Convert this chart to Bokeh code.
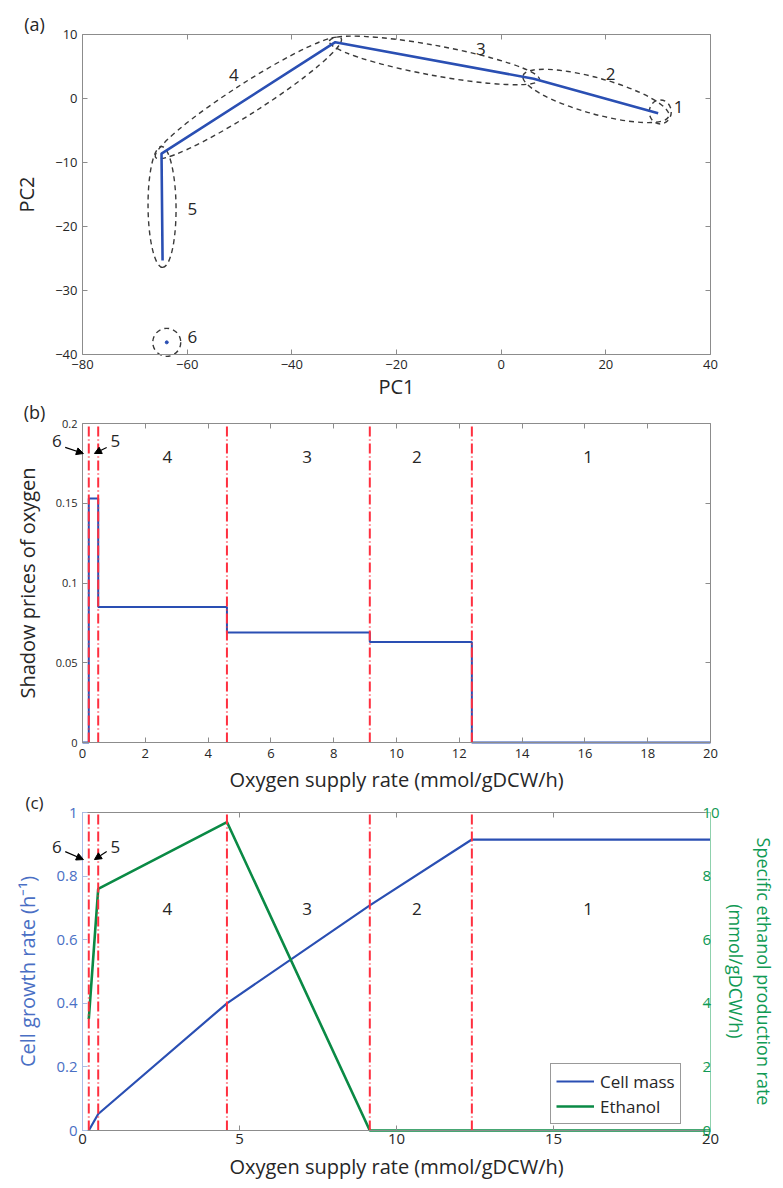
import math
from bokeh.plotting import figure
from bokeh.layouts import column
from bokeh.models import Range1d, LinearAxis, FixedTicker, Label, Arrow, NormalHead
from bokeh.core.properties import value
from bokeh.embed import file_html
from bokeh.resources import INLINE

# ---------------- data ----------------
# (a) PCA trajectory
pc1 = [30.0, 6.2, -31.7, -64.9, -64.7]
pc2 = [-2.3, 3.1, 8.8, -8.6, -25.3]
pc1_mode6 = [-63.9]
pc2_mode6 = [-38.1]
pca_region_labels = ["1", "2", "3", "4", "5", "6"]
pca_label_x = [33.9, 20.9, -3.9, -51.1, -59.0, -59.0]
pca_label_y = [-1.3, 3.8, 7.8, 3.6, -17.2, -37.3]
pca_xticks = [-80, -60, -40, -20, 0, 20, 40]
pca_xtick_labels = ["\u221280", "\u221260", "\u221240", "\u221220", "0", "20", "40"]
pca_yticks = [-40, -30, -20, -10, 0, 10]
pca_ytick_labels = ["\u221240", "\u221230", "\u221220", "\u221210", "0", "10"]

# (b) shadow prices
boundaries = [0.2, 0.5, 4.6, 9.15, 12.4]
shadow_x = [0, 0.2, 0.5, 4.6, 9.15, 12.4, 20]
shadow_y = [0, 0.153, 0.085, 0.069, 0.063, 0, 0]
b_xticks = [0, 2, 4, 6, 8, 10, 12, 14, 16, 18, 20]
b_xtick_labels = [str(t) for t in b_xticks]
b_yticks = [0, 0.05, 0.1, 0.15, 0.2]
b_ytick_labels = ["0", "0.05", "0.1", "0.15", "0.2"]

# (c) growth and ethanol
growth_x = [0.2, 0.5, 4.6, 9.15, 12.4, 20]
growth_y = [0, 0.052, 0.40, 0.708, 0.915, 0.915]
ethanol_x = [0.2, 0.5, 4.6, 9.15, 12.4, 20]
ethanol_y = [3.5, 7.6, 9.7, 0, 0, 0]
c_xticks = [0, 5, 10, 15, 20]
c_xtick_labels = ["0", "5", "10", "15", "20"]
c_yticks = [0, 0.2, 0.4, 0.6, 0.8, 1]
c_ytick_labels = ["0", "0.2", "0.4", "0.6", "0.8", "1"]
c_y2ticks = [0, 2, 4, 6, 8, 10]
c_y2tick_labels = ["0", "2", "4", "6", "8", "10"]

region_labels = ["4", "3", "2", "1"]
region_x = [2.7, 7.15, 10.65, 16.1]

# ---------------- style ----------------
FONT = "Open Sans"
AX_GRAY = "#8c8c8c"
TXT = "#262626"
BLUE = "#2a4fb3"
GREEN = "#0a8a45"
RED = "#ff2f3f"
LBLUE = "#4a6fc4"
LGREEN = "#119a55"

W = 783
AXIS_L = 82          # pixel x of the left axis
AXIS_R = 710         # pixel x of the right axis
FRAME_W = AXIS_R - AXIS_L


class Panel:
    """A figure whose plot frame covers the whole canvas; axes are pinned
    to the data limits so that every text stays inside the frame."""

    def __init__(self, height, xlim, ylim, top_px, bottom_px):
        self.h = height
        self.xmin, self.xmax = xlim
        self.ymin, self.ymax = ylim
        self.sx = FRAME_W / float(self.xmax - self.xmin)
        self.sy = (bottom_px - top_px) / float(self.ymax - self.ymin)
        self.top_px, self.bottom_px = top_px, bottom_px
        xr = Range1d(self.xmin - AXIS_L / self.sx, self.xmax + (W - AXIS_R) / self.sx)
        yr = Range1d(self.ymin - (height - bottom_px) / self.sy, self.ymax + top_px / self.sy)
        p = figure(width=W, height=height, x_range=xr, y_range=yr,
                   output_backend="svg", toolbar_location=None,
                   min_border_left=0, min_border_right=0,
                   min_border_top=0, min_border_bottom=0)
        p.xgrid.visible = False
        p.ygrid.visible = False
        p.outline_line_color = None
        p.background_fill_color = "white"
        p.border_fill_color = "white"
        p.yaxis[0].fixed_location = self.xmin
        p.yaxis[0].bounds = (self.ymin, self.ymax)
        p.xaxis[0].fixed_location = self.ymin
        p.xaxis[0].bounds = (self.xmin, self.xmax)
        self.p = p

    def extra_range(self, lo, hi):
        s = (self.bottom_px - self.top_px) / float(hi - lo)
        return Range1d(lo - (self.h - self.bottom_px) / s, hi + self.top_px / s)

    def data_x(self, px):
        return self.p.x_range.start + px / self.sx

    def data_y(self, py):
        return self.p.y_range.end - py / self.sy


def style_axis(ax, ticks, labels, size, color=TXT, line=AX_GRAY, show=True, standoff=4):
    ax.ticker = FixedTicker(ticks=ticks)
    ax.major_label_overrides = {t: l for t, l in zip(ticks, labels)}
    ax.major_tick_in = 5
    ax.major_tick_out = 0
    ax.minor_tick_line_color = None
    ax.axis_line_color = line
    ax.major_tick_line_color = line
    ax.major_label_text_font = FONT
    ax.major_label_text_font_size = size if show else "0px"
    ax.major_label_text_color = color
    ax.major_label_standoff = standoff if show else 0


def label_axis(ax, text, size="20px", color=TXT, standoff=6):
    ax.axis_label = text
    ax.axis_label_text_font = FONT
    ax.axis_label_text_font_size = size
    ax.axis_label_text_font_style = "normal"
    ax.axis_label_text_color = color
    ax.axis_label_standoff = standoff


def mirror_axes(P, xticks, yticks, right=True):
    top = LinearAxis(fixed_location=P.ymax, bounds=(P.xmin, P.xmax))
    style_axis(top, xticks, ["" for _ in xticks], "0px", show=False)
    P.p.add_layout(top, "above")
    if right:
        r = LinearAxis(fixed_location=P.xmax, bounds=(P.ymin, P.ymax))
        style_axis(r, yticks, ["" for _ in yticks], "0px", show=False)
        P.p.add_layout(r, "right")


def panel_tag(P, text, px, py, size="18px"):
    P.p.add_layout(Label(x=P.data_x(px), y=P.data_y(py), text=text, text_font=FONT,
                         text_font_size=size, text_color=TXT,
                         text_align="center", text_baseline="middle"))


def mode_arrows(p, y_text, y_start, y_end):
    for t, x in (("6", -0.82), ("5", 1.05)):
        p.add_layout(Label(x=x, y=y_text, text=t, text_font=FONT, text_font_size="17px",
                           text_color=TXT, text_align="center", text_baseline="middle"))
    p.add_layout(Arrow(end=NormalHead(size=7, fill_color="black", line_color="black"),
                       x_start=-0.55, y_start=y_start, x_end=0.03, y_end=y_end,
                       line_color="black", line_width=1.2))
    p.add_layout(Arrow(end=NormalHead(size=7, fill_color="black", line_color="black"),
                       x_start=0.77, y_start=y_start, x_end=0.38, y_end=y_end,
                       line_color="black", line_width=1.2))


def red_lines(p, y0, y1, **kw):
    p.segment(x0=boundaries, y0=[y0] * len(boundaries), x1=boundaries, y1=[y1] * len(boundaries),
              line_color=RED, line_width=2, line_dash="10 3 1 3", **kw)


# ---------------- (a) ----------------
A = Panel(400, (-80, 40), (-40, 10), 34, 354)
pa = A.p
style_axis(pa.xaxis[0], pca_xticks, pca_xtick_labels, "13px", standoff=5)
style_axis(pa.yaxis[0], pca_yticks, pca_ytick_labels, "13px", standoff=5)
label_axis(pa.xaxis[0], "PC1", standoff=1)
label_axis(pa.yaxis[0], "PC2", standoff=12)
mirror_axes(A, pca_xticks, pca_yticks)

# ellipses around the trajectory segments (screen-space sizes)
seg_pad = [22, 12, 14, 14]
seg_minor = [36, 30, 30, 28]
ex, ey, ew, eh, ea = [], [], [], [], []
for i in range(4):
    x1, y1, x2, y2 = pc1[i], pc2[i], pc1[i + 1], pc2[i + 1]
    dxs, dys = (x2 - x1) * A.sx, (y2 - y1) * A.sy
    ex.append((x1 + x2) / 2)
    ey.append((y1 + y2) / 2)
    ew.append(math.hypot(dxs, dys) + seg_pad[i])
    eh.append(seg_minor[i])
    ea.append(math.atan2(dys, dxs))
ex += [pc1[0] + 0.4, pc1_mode6[0]]
ey += [pc2[0] + 0.2, pc2_mode6[0]]
ew += [22, 28]
eh += [24, 28]
ea += [0, 0]
pa.ellipse(x=ex, y=ey, width=ew, height=eh, angle=ea,
           width_units="screen", height_units="screen",
           fill_color=None, line_color="#3a3a3a", line_width=1.4, line_dash="5 4")
pa.line(pc1, pc2, line_color=BLUE, line_width=2.6)
pa.scatter(pc1_mode6, pc2_mode6, size=3, color=BLUE)
pa.text(x=pca_label_x, y=pca_label_y, text=pca_region_labels,
        text_font=value(FONT), text_font_size="17px", text_color=TXT,
        text_align="center", text_baseline="middle")
panel_tag(A, "(a)", 34, 23)

# ---------------- (b) ----------------
B = Panel(392, (0, 20), (0, 0.2), 23, 342)
pb = B.p
style_axis(pb.xaxis[0], b_xticks, b_xtick_labels, "13px", standoff=6)
style_axis(pb.yaxis[0], b_yticks, b_ytick_labels, "11px", standoff=5)
label_axis(pb.xaxis[0], "Oxygen supply rate (mmol/gDCW/h)", standoff=5)
label_axis(pb.yaxis[0], "Shadow prices of oxygen", standoff=12)
mirror_axes(B, b_xticks, b_yticks)
pb.step(shadow_x, shadow_y, mode="after", line_color=BLUE, line_width=2)
red_lines(pb, 0, 0.2)
pb.text(x=region_x, y=[0.1787] * len(region_x), text=region_labels,
        text_font=value(FONT), text_font_size="17px", text_color=TXT,
        text_align="center", text_baseline="middle")
mode_arrows(pb, 0.1893, 0.185, 0.1812)
panel_tag(B, "(b)", 34, 11)

# ---------------- (c) ----------------
C = Panel(396, (0, 20), (0, 1), 20, 338)
pc = C.p
pc.extra_y_ranges = {"eth": C.extra_range(0, 10)}
style_axis(pc.xaxis[0], c_xticks, c_xtick_labels, "15px", standoff=3)
style_axis(pc.yaxis[0], c_yticks, c_ytick_labels, "15px", color=LBLUE, line="#a9bde6", standoff=5)
label_axis(pc.xaxis[0], "Oxygen supply rate (mmol/gDCW/h)", standoff=6)
label_axis(pc.yaxis[0], "Cell growth rate (h\u207b\u00b9)", color=LBLUE, standoff=12)
ax2 = LinearAxis(y_range_name="eth", fixed_location=C.xmax, bounds=(0, 10))
style_axis(ax2, c_y2ticks, c_y2tick_labels, "15px", color=LGREEN, line="#8fd1ad", standoff=-8)
label_axis(ax2, "Specific ethanol production rate\n(mmol/gDCW/h)", size="18px", color=LGREEN, standoff=1)
ax2.axis_label_text_align = "center"
pc.add_layout(ax2, "right")
mirror_axes(C, c_xticks, c_yticks, right=False)

pc.line(growth_x, growth_y, line_color=BLUE, line_width=2.2, legend_label="Cell mass")
pc.line(ethanol_x, ethanol_y, line_color=GREEN, line_width=2.6, y_range_name="eth",
        legend_label="Ethanol")
red_lines(pc, 0, 1)
pc.text(x=region_x, y=[0.695] * len(region_x), text=region_labels,
        text_font=value(FONT), text_font_size="17px", text_color=TXT,
        text_align="center", text_baseline="middle")
mode_arrows(pc, 0.893, 0.877, 0.852)
panel_tag(C, "(c)", 34, 10, size="17px")

lg = pc.legend[0]
lg.location = (550, C.h - 332)   # left / bottom of the legend box in screen pixels
lg.margin = 0
lg.padding = 5
lg.spacing = 1
lg.border_line_color = "#333333"
lg.border_line_width = 1
lg.background_fill_alpha = 1
lg.label_text_font = FONT
lg.label_text_font_size = "17px"
lg.label_text_color = TXT
lg.glyph_width = 38
lg.glyph_height = 24
lg.label_height = 24
lg.label_standoff = 6

layout = column(pa, pb, pc, spacing=0)
open("out.html", "w").write(file_html(layout, INLINE))
